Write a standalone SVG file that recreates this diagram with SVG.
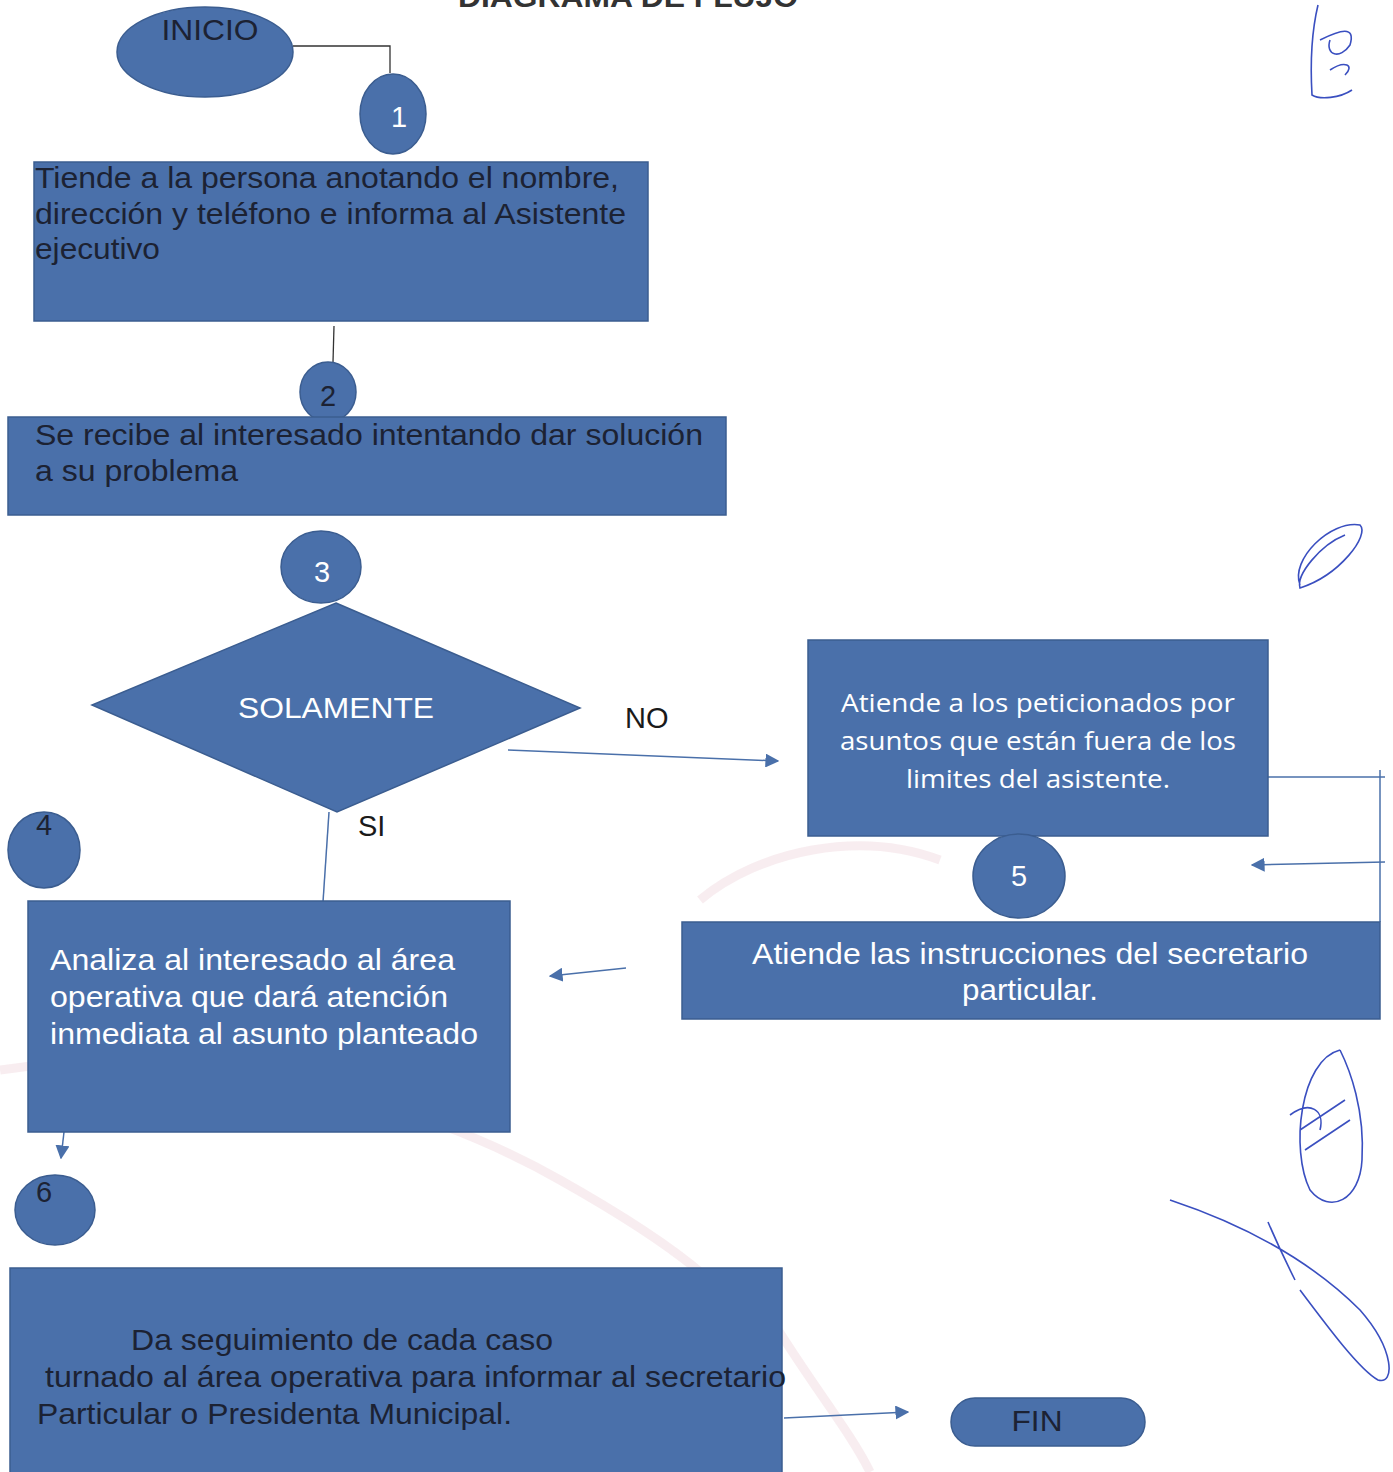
<svg xmlns="http://www.w3.org/2000/svg" width="1393" height="1472" viewBox="0 0 1393 1472">
<defs>
<style>
.shape{fill:#4a70aa;stroke:#3b5d90;stroke-width:1.5}
.dk{font-family:"Liberation Sans",Arial,sans-serif;fill:#1c2233;font-size:29px}
.wt{font-family:"Liberation Sans",Arial,sans-serif;fill:#ffffff;font-size:29px}
.cal{font-family:"Open Sans","Noto Sans",sans-serif;fill:#ffffff;font-size:26px}
.lbl{font-family:"Liberation Sans",Arial,sans-serif;fill:#1a1a1a;font-size:29px}
.conn{stroke:#4a70aa;stroke-width:1.5;fill:none}
.connk{stroke:#333;stroke-width:1.3;fill:none}
.sig{stroke:#3a4fc0;stroke-width:1.6;fill:none}
.wm{stroke:#eccbd3;stroke-width:9;fill:none;opacity:0.35}
</style>
<marker id="ah2" viewBox="0 0 10 10" refX="9" refY="5" markerWidth="14" markerHeight="14" markerUnits="userSpaceOnUse" orient="auto">
<path d="M0,0 L10,5 L0,10 z" fill="#4a70aa"/>
</marker>
</defs>
<rect width="1393" height="1472" fill="#ffffff"/>
<g id="watermark">
<path class="wm" d="M0,1070 C200,1040 420,1100 560,1180 C640,1225 690,1260 720,1290"/>
<path class="wm" d="M760,1300 C800,1370 850,1430 870,1472"/>
<path class="wm" d="M700,900 C760,850 860,830 940,860" opacity="0.2"/>
</g>
<text x="458" y="7" font-family="Liberation Sans,Arial,sans-serif" font-weight="bold" font-size="30" fill="#333" textLength="340" lengthAdjust="spacingAndGlyphs">DIAGRAMA DE FLUJO</text>
<g id="connectors">
<polyline class="connk" points="293,46 390,46 390,73"/>
<line class="connk" x1="334" y1="326" x2="333" y2="362"/>
<line class="conn" x1="508" y1="750" x2="778" y2="761" marker-end="url(#ah2)"/>
<line class="conn" x1="329" y1="812" x2="323" y2="902"/>
<polyline class="conn" points="1268,777 1385,777"/>
<line class="conn" x1="1380" y1="770" x2="1380" y2="922"/>
<line class="conn" x1="1385" y1="862" x2="1252" y2="865" marker-end="url(#ah2)"/>
<line class="conn" x1="626" y1="968" x2="550" y2="976" marker-end="url(#ah2)"/>
<line class="conn" x1="64" y1="1132" x2="61" y2="1158" marker-end="url(#ah2)"/>
<line class="conn" x1="784" y1="1418" x2="908" y2="1412" marker-end="url(#ah2)"/>
<text class="lbl" x="625" y="728">NO</text>
<text class="lbl" x="358" y="836">SI</text>
</g>
<g id="inicio">
<ellipse class="shape" cx="205" cy="52" rx="88" ry="45"/>
<text class="dk" x="210" y="40" text-anchor="middle" textLength="97" lengthAdjust="spacingAndGlyphs">INICIO</text>
</g>
<g id="c1">
<ellipse class="shape" cx="393" cy="114" rx="33" ry="40"/>
<text class="wt" x="399" y="127" text-anchor="middle" font-size="26">1</text>
</g>
<g id="box1">
<rect class="shape" x="34" y="162" width="614" height="159"/>
<text class="dk" x="35" y="188" textLength="584" lengthAdjust="spacingAndGlyphs">Tiende a la persona anotando el nombre,</text>
<text class="dk" x="35" y="224" textLength="591" lengthAdjust="spacingAndGlyphs">dirección y teléfono e informa al Asistente</text>
<text class="dk" x="35" y="259" textLength="125" lengthAdjust="spacingAndGlyphs">ejecutivo</text>
</g>
<g id="c2">
<ellipse class="shape" cx="328" cy="392" rx="28" ry="30"/>
<text class="dk" x="328" y="406" text-anchor="middle" font-size="28">2</text>
</g>
<g id="box2">
<rect class="shape" x="8" y="417" width="718" height="98"/>
<text class="dk" x="35" y="445" textLength="668" lengthAdjust="spacingAndGlyphs">Se recibe al interesado intentando dar solución</text>
<text class="dk" x="35" y="481" textLength="203" lengthAdjust="spacingAndGlyphs">a su problema</text>
</g>
<g id="c3">
<ellipse class="shape" cx="321" cy="567" rx="40" ry="36"/>
<text class="wt" x="322" y="582" text-anchor="middle" font-size="24">3</text>
</g>
<g id="decision">
<polygon class="shape" points="336,603 580,708 337,812 92,705"/>
<text class="wt" x="336" y="718" text-anchor="middle" textLength="196" lengthAdjust="spacingAndGlyphs">SOLAMENTE</text>
</g>
<g id="c4">
<ellipse class="shape" cx="44" cy="850" rx="36" ry="38"/>
<text class="dk" x="44" y="835" text-anchor="middle" font-size="28">4</text>
</g>
<g id="box3">
<rect class="shape" x="808" y="640" width="460" height="196"/>
<text class="cal" x="1038" y="712" text-anchor="middle" textLength="394" lengthAdjust="spacingAndGlyphs">Atiende a los peticionados por</text>
<text class="cal" x="1038" y="750" text-anchor="middle" textLength="396" lengthAdjust="spacingAndGlyphs">asuntos que están fuera de los</text>
<text class="cal" x="1038" y="788" text-anchor="middle" textLength="264" lengthAdjust="spacingAndGlyphs">limites del asistente.</text>
</g>
<g id="c5">
<ellipse class="shape" cx="1019" cy="876" rx="46" ry="42"/>
<text class="wt" x="1019" y="886" text-anchor="middle" font-size="28">5</text>
</g>
<g id="box4">
<rect class="shape" x="682" y="922" width="698" height="97"/>
<text class="wt" x="1030" y="964" text-anchor="middle" textLength="556" lengthAdjust="spacingAndGlyphs">Atiende las instrucciones del secretario</text>
<text class="wt" x="1030" y="1000" text-anchor="middle" textLength="136" lengthAdjust="spacingAndGlyphs">particular.</text>
</g>
<g id="box5">
<rect class="shape" x="28" y="901" width="482" height="231"/>
<text class="wt" x="50" y="970" textLength="405" lengthAdjust="spacingAndGlyphs">Analiza al interesado al área</text>
<text class="wt" x="50" y="1007" textLength="398" lengthAdjust="spacingAndGlyphs">operativa que dará atención</text>
<text class="wt" x="50" y="1044" textLength="428" lengthAdjust="spacingAndGlyphs">inmediata al asunto planteado</text>
</g>
<g id="c6">
<ellipse class="shape" cx="55" cy="1210" rx="40" ry="35"/>
<text class="dk" x="44" y="1202" text-anchor="middle" font-size="28">6</text>
</g>
<g id="box6">
<rect class="shape" x="10" y="1268" width="772" height="210"/>
<text class="dk" x="131" y="1350" textLength="422" lengthAdjust="spacingAndGlyphs">Da seguimiento de cada caso</text>
<text class="dk" x="45" y="1387" textLength="741" lengthAdjust="spacingAndGlyphs">turnado al área operativa para informar al secretario</text>
<text class="dk" x="37" y="1424" textLength="475" lengthAdjust="spacingAndGlyphs">Particular o Presidenta Municipal.</text>
</g>
<g id="fin">
<rect class="shape" x="951" y="1398" width="194" height="48" rx="24"/>
<text class="dk" x="1037" y="1431" text-anchor="middle" textLength="51" lengthAdjust="spacingAndGlyphs">FIN</text>
</g>
<g id="signatures">
<path class="sig" d="M1318,5 C1312,30 1310,60 1312,95 C1320,100 1340,98 1352,90 M1320,40 C1340,30 1356,25 1350,45 C1340,60 1325,55 1330,40 M1330,70 C1345,60 1355,65 1345,75"/>
<path class="sig" d="M1300,585 C1290,560 1330,520 1360,525 C1370,535 1340,575 1300,588 C1296,575 1320,545 1345,535"/>
<path class="sig" d="M1340,1050 C1300,1060 1290,1150 1310,1190 C1330,1215 1360,1200 1362,1160 C1365,1110 1350,1070 1340,1050 M1290,1115 C1310,1100 1325,1110 1320,1130 M1300,1130 L1345,1100 M1305,1150 L1350,1120"/>
<path class="sig" d="M1170,1200 C1260,1230 1320,1270 1360,1310 C1395,1350 1395,1385 1378,1380 C1360,1370 1330,1330 1300,1290 M1268,1222 C1280,1250 1290,1270 1295,1280"/>
</g>
</svg>
